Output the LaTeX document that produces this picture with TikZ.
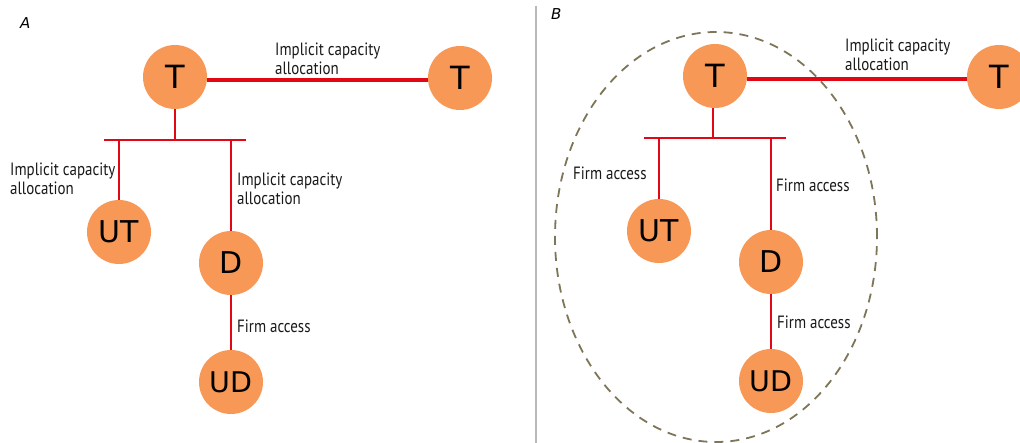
\documentclass[tikz,border=0pt]{standalone}
\usepackage{fontspec}
\usetikzlibrary{shapes.geometric}
\setmainfont{DejaVu Sans}
\newfontfamily\labfont[FakeStretch=0.84]{PT Sans}
\definecolor{nodeorange}{RGB}{247,152,86}
\definecolor{linkred}{RGB}{225,8,22}
\definecolor{ellcol}{RGB}{125,118,88}
\definecolor{txtcol}{RGB}{25,25,25}
\tikzset{
  station/.style={circle, fill=nodeorange, draw=none, minimum size=64pt, inner sep=0pt, text=black},
  bigT/.style={font=\fontsize{32}{32}\selectfont},
  midT/.style={font=\fontsize{30}{30}\selectfont},
  smallT/.style={font=\fontsize{28.5}{28.5}\selectfont},
  link/.style={draw=linkred, line width=2.4pt},
  mainlink/.style={draw=linkred, line width=4pt},
  lab/.style={anchor=base west, inner sep=0pt, text=txtcol, font=\labfont\fontsize{17.8}{19}\selectfont},
  panel/.style={anchor=base west, inner sep=0pt, font=\fontsize{15}{15}\selectfont\itshape},
}
\begin{document}
\begin{tikzpicture}[x=1pt,y=-1pt]
\useasboundingbox (0,0) rectangle (1020,443);
\fill[white] (0,0) rectangle (1020,443);
\begin{scope}
\clip (0,0) rectangle (1020,443);
% separator
\draw[gray!55, line width=1.3pt] (536,6) -- (536,443);
% panel labels
\node[panel] (lA) at (20,29) {A};
\node[panel] (lB) at (551,20) {B};

% ---------- Panel A ----------
\node[station, bigT] (T1) at (175,77) {T};
\node[station, bigT] (T2) at (460,78) {T};
\node[station, midT] (UT) at (119,232) {UT};
\node[station, midT] (D) at (231,263) {D};
\node[station, smallT] (UD) at (231,382) {UD};
\coordinate (busA) at (175,140);
\coordinate (busAL) at (104,140);
\coordinate (busAR) at (246,140);
\draw[mainlink] (T1.east |- 0,80) -- (T2.west |- 0,80);
\draw[link] (T1.south) -- (busA);
\draw[link] (busAL) -- (busAR);
\draw[link] (UT.north |- busA) -- (UT.north);
\draw[link] (D.north |- busA) -- (D.north);
\draw[link] (D.south) -- (UD.north);

\node[lab] (a1) at (275,56) {\begin{tabular}[t]{@{}l@{}}Implicit capacity\\allocation\end{tabular}};
\node[lab] (a2) at (10,176) {\begin{tabular}[t]{@{}l@{}}Implicit capacity\\allocation\end{tabular}};
\node[lab] (a3) at (237,186) {\begin{tabular}[t]{@{}l@{}}Implicit capacity\\allocation\end{tabular}};
\node[lab] (a4) at (237,333) {Firm access};

% ---------- Panel B ----------
\node[draw=ellcol, line width=1.8pt, dash pattern=on 9pt off 7pt, ellipse, minimum width=322pt, minimum height=410pt, inner sep=0pt] (grp) at (716,237) {};
\node[station, bigT] (T3) at (715,76) {T};
\node[station, bigT] (T4) at (999,77) {T};
\node[station, midT] (UT2) at (659,231) {UT};
\node[station, midT] (D2) at (771,262) {D};
\node[station, smallT] (UD2) at (771,381) {UD};
\coordinate (busB) at (713,138);
\coordinate (busBL) at (644,138);
\coordinate (busBR) at (786,138);
\draw[mainlink] (T3.east |- 0,79) -- (T4.west |- 0,79);
\draw[link] (T3.south -| busB) -- (busB);
\draw[link] (busBL) -- (busBR);
\draw[link] (UT2.north |- busB) -- (UT2.north);
\draw[link] (D2.north |- busB) -- (D2.north);
\draw[link] (D2.south) -- (UD2.north);

\node[lab] (b1) at (845,52) {\begin{tabular}[t]{@{}l@{}}Implicit capacity\\allocation\end{tabular}};
\node[lab] (b2) at (573,180) {Firm access};
\node[lab] (b3) at (776,192) {Firm access};
\node[lab] (b4) at (777,329) {Firm access};
\end{scope}
\end{tikzpicture}
\end{document}
